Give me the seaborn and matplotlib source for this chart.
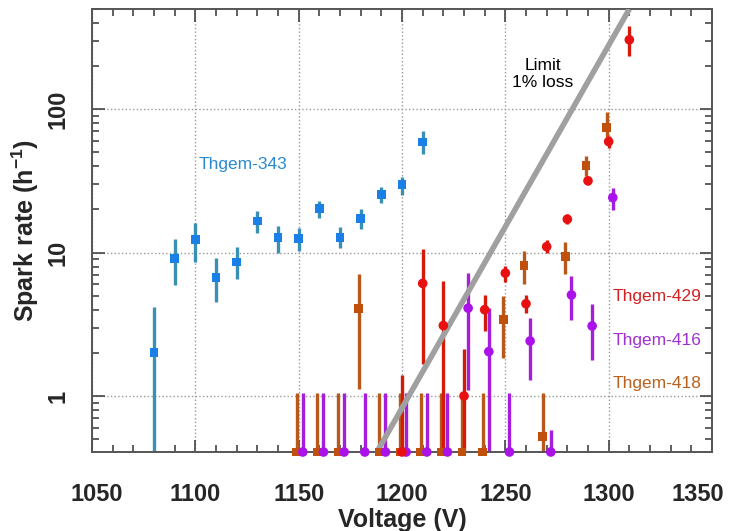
import numpy as np
import pandas as pd
import matplotlib
matplotlib.use("Agg")
import matplotlib.pyplot as plt
import matplotlib.transforms as mtransforms
import seaborn as sns
from matplotlib.ticker import MultipleLocator, LogLocator, FixedLocator, FixedFormatter, NullFormatter

sns.set_theme(style="white")
plt.rcParams['font.family'] = ['Liberation Sans', 'DejaVu Sans']
plt.rcParams['mathtext.fontset'] = 'custom'
plt.rcParams['mathtext.rm'] = 'Liberation Sans'
plt.rcParams['mathtext.bf'] = 'Liberation Sans:bold'

# ---------------- data ----------------
# Thgem-343 (blue)
v343 = [1080, 1090, 1100, 1110, 1120, 1130, 1140, 1150, 1160, 1170, 1180, 1190, 1200, 1210]
r343 = [2.0, 9.1, 12.3, 6.7, 8.6, 16.6, 12.8, 12.6, 20.4, 12.8, 17.4, 25.3, 30.0, 59.0]
lo343 = [0.0, 5.95, 8.6, 4.55, 6.5, 13.8, 10.0, 10.3, 17.5, 10.7, 14.6, 22.1, 25.3, 48.6]
hi343 = [4.2, 12.4, 16.0, 9.1, 10.9, 19.5, 15.4, 14.8, 23.0, 15.0, 20.2, 28.9, 33.9, 70.6]

# Thgem-429 (red)
v429 = [1200, 1210, 1220, 1230, 1240, 1250, 1260, 1270, 1280, 1290, 1300, 1310]
r429 = [0.0, 6.1, 3.1, 1.0, 4.0, 7.2, 4.4, 11.0, 17.1, 31.7, 59.5, 305.0]
lo429 = [0.0, 1.67, 0.0, 0.0, 2.84, 6.2, 3.8, 9.9, 15.8, 29.5, 54.0, 236.0]
hi429 = [1.4, 10.6, 6.35, 2.13, 5.1, 8.1, 5.1, 12.3, 18.6, 33.0, 65.0, 378.0]

# Thgem-418 (orange)
v418 = [1149, 1159, 1169, 1179, 1189, 1199, 1209, 1219, 1229, 1239, 1249, 1259, 1268, 1279, 1289, 1299]
r418 = [0.0, 0.0, 0.0, 4.1, 0.0, 0.0, 0.0, 0.0, 0.0, 0.0, 3.4, 8.1, 0.52, 9.4, 40.5, 75.0]
lo418 = [0.0, 0.0, 0.0, 1.12, 0.0, 0.0, 0.0, 0.0, 0.0, 0.0, 1.83, 6.0, 0.0, 7.1, 34.5, 64.0]
hi418 = [1.05, 1.05, 1.05, 7.1, 1.05, 1.05, 1.05, 1.05, 1.05, 1.05, 5.0, 10.2, 1.05, 11.9, 47.5, 95.0]

# Thgem-416 (purple)
v416 = [1152, 1162, 1172, 1182, 1192, 1202, 1212, 1222, 1232, 1242, 1252, 1262, 1272, 1282, 1292, 1302]
r416 = [0.0, 0.0, 0.0, 0.0, 0.0, 0.0, 0.0, 0.0, 4.1, 2.04, 0.0, 2.42, 0.0, 5.07, 3.08, 24.2]
lo416 = [0.0, 0.0, 0.0, 0.0, 0.0, 0.0, 0.0, 0.0, 1.11, 0.0, 0.0, 1.29, 0.0, 3.39, 1.78, 19.9]
hi416 = [1.05, 1.05, 1.05, 1.05, 1.05, 1.05, 1.05, 1.05, 7.2, 4.1, 1.05, 3.5, 0.58, 6.9, 4.4, 28.4]

# 1% loss limit line
limit_v = [1188, 1310]
limit_rate = [0.41, 500.0]

x_ticks = [1050, 1100, 1150, 1200, 1250, 1300, 1350]
y_ticks = [1, 10, 100]
y_ticklabels = ['1', '10', '100']

Y_MIN, Y_MAX = 0.407, 500.0

series = [
    # name, v, r, lo, hi, marker color, err color, marker, label color, label pos, align
    ("Thgem-343", v343, r343, lo343, hi343, '#1a7fe6', '#3a90b2', 's', '#2a8ad0', (1123, 41.0), 'center'),
    ("Thgem-418", v418, r418, lo418, hi418, '#c0500c', '#b8581a', 's', '#b8601e', (1302, 1.226), 'left'),
    ("Thgem-416", v416, r416, lo416, hi416, '#ab12ea', '#a41edc', 'o', '#a030d0', (1302, 2.43), 'left'),
    ("Thgem-429", v429, r429, lo429, hi429, '#e81010', '#d41a0a', 'o', '#d42020', (1302, 4.93), 'left'),
]

fig = plt.figure(figsize=(7.29, 5.31), dpi=100)
ax = fig.add_axes([92 / 729, 1 - 452 / 531, 620 / 729, 443 / 531])
ax.set_yscale('log')
ax.set_xlim(1050, 1350)
ax.set_ylim(Y_MIN, Y_MAX)

# limit line
ax.plot(limit_v, limit_rate, color='#a0a0a0', lw=4, solid_capstyle='butt', zorder=3)
ax.text(1268, 177, "Limit\n1% loss", ha='center', va='center', fontsize=12.5,
        color='black', linespacing=1.15, zorder=4)

for name, v, r, lo, hi, mc, ec, mk, lc, lpos, ha in series:
    df = pd.DataFrame({"voltage": v, "rate": r, "lo": lo, "hi": hi})
    df["rate_plot"] = np.where(df["rate"] > 0, df["rate"], Y_MIN)
    df["lo_plot"] = np.where(df["lo"] > 0, df["lo"], 1e-3)
    ax.vlines(df["voltage"], df["lo_plot"], df["hi"], colors=ec, lw=2.4, zorder=2)
    s = 40 if mk == 's' else 48
    sns.scatterplot(data=df, x="voltage", y="rate_plot", ax=ax, marker=mk, s=s,
                    color=mc, edgecolor='none', linewidth=0, clip_on=False, zorder=5,
                    legend=False)
    ax.text(lpos[0], lpos[1], name, ha=ha, va='center', fontsize=12.5, color=lc)

# grid
ax.grid(True, which='major', axis='both', linestyle=':', color='#9a9a9a', lw=1.0)
ax.set_axisbelow(True)

# ticks
ax.xaxis.set_major_locator(FixedLocator(x_ticks))
ax.xaxis.set_minor_locator(MultipleLocator(10))
ax.yaxis.set_major_locator(FixedLocator(y_ticks))
ax.yaxis.set_major_formatter(FixedFormatter(y_ticklabels))
ax.yaxis.set_minor_locator(LogLocator(base=10, subs=np.arange(2, 10)))
ax.yaxis.set_minor_formatter(NullFormatter())
ax.tick_params(which='both', direction='in', top=True, right=True, bottom=True, left=True,
               color='#444444', width=1.2)
ax.tick_params(which='major', length=9)
ax.tick_params(which='minor', length=5)
ax.tick_params(axis='x', which='major', pad=22, labelsize=17)
ax.tick_params(axis='y', which='major', pad=16, labelsize=17)

fig.canvas.draw()
xlabels = ax.get_xticklabels()
for i, t in enumerate(xlabels):
    t.set_fontweight('bold')
    dx = 0.0
    if i == 0:
        dx = 5 / 100
    elif i == len(xlabels) - 1:
        dx = -14 / 100
    if dx:
        t.set_transform(t.get_transform() + mtransforms.ScaledTranslation(dx, 0, fig.dpi_scale_trans))
for t in ax.get_yticklabels():
    t.set_fontweight('bold')
    t.set_rotation(90)
    t.set_va('center')

for sp in ax.spines.values():
    sp.set_color('#555555')
    sp.set_linewidth(1.4)

ax.set_xlabel("Voltage (V)", fontsize=18, fontweight='bold', labelpad=2)
ax.set_ylabel("Spark rate (h$^{\\mathbf{-1}}$)", fontsize=18, fontweight='bold', labelpad=4)

fig.savefig("out.png", dpi=100)
